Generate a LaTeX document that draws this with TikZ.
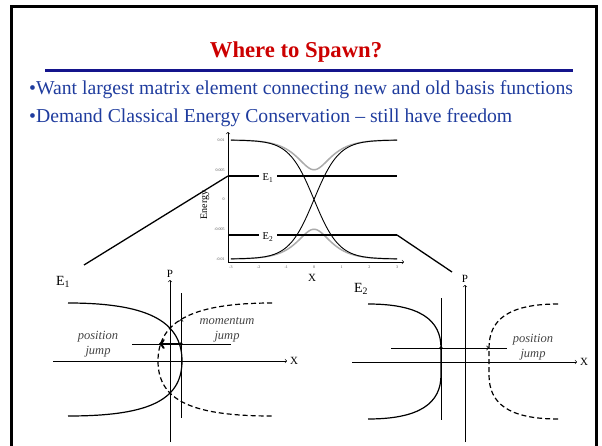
\documentclass[tikz,border=0pt]{standalone}
\usepackage{fontspec}
\setmainfont{Liberation Serif}
\usepackage{xcolor}
\usetikzlibrary{positioning}
\definecolor{TitleRed}{HTML}{CC0000}
\definecolor{RuleNavy}{HTML}{14148C}
\definecolor{TextBlue}{HTML}{1F3C9E}
\definecolor{NoteGray}{HTML}{444444}
\definecolor{CurveGray}{HTML}{ABABAB}

\begin{document}
\begin{tikzpicture}[
  x=1pt, y=-1pt,
  axis/.style={->, >=to, line width=0.6pt},
  level/.style={line width=1.6pt},
  link/.style={line width=1.3pt},
  diab/.style={line width=0.9pt},
  adiab/.style={line width=1.5pt, CurveGray},
  orbit/.style={line width=1.2pt},
  orbitalt/.style={line width=1.2pt, dash pattern=on 5pt off 3pt},
  guide/.style={line width=0.6pt},
  tick/.style={font=\fontsize{4}{4}\selectfont, text=black!70, inner sep=0.5pt},
  note/.style={align=center, text=NoteGray, font=\fontsize{12.5}{15}\selectfont\itshape},
  bullet/.style={anchor=base west, inner sep=0pt, text=TextBlue, font=\fontsize{19.7}{22}\selectfont},
  lvllbl/.style={inner sep=4pt, font=\fontsize{10.5}{12}\selectfont},
  panlbl/.style={font=\fontsize{14}{16}\selectfont},
  axlbl/.style={inner sep=0pt, font=\fontsize{11}{12}\selectfont}
]
  \useasboundingbox (0,0) rectangle (602,446);
  \draw[line width=3pt] (11,7) rectangle (596,480);

  \node[anchor=base, text=TitleRed, font=\fontsize{22.7}{26}\selectfont\bfseries] (title) at (296,57.5) {Where to Spawn?};
  \draw[RuleNavy, line width=3.8pt] (45,70.5) -- (573,70.5);
  \node[bullet] (ln1) at (29,95) {•Want largest matrix element connecting new and old basis functions};
  \node[bullet] (ln2) at (29,122.5) {•Demand Classical Energy Conservation – still have freedom};

  \begin{scope}[shift={(314pt,-199.5pt)}, x=27.7pt, y=5.95pt]
    \draw[adiab] plot[domain=-3:3, samples=121, smooth] (\x, {sqrt(100*tanh(\x/0.9)*tanh(\x/0.9) + 25*exp(-\x*\x/0.8))});
    \draw[adiab] plot[domain=-3:3, samples=121, smooth] (\x, {-sqrt(100*tanh(\x/0.9)*tanh(\x/0.9) + 25*exp(-\x*\x/0.8))});
    \draw[diab] plot[domain=-3:3, samples=121, smooth] (\x, {-10*tanh(\x/0.9)});
    \draw[diab] plot[domain=-3:3, samples=121, smooth] (\x, {10*tanh(\x/0.9)});
    \foreach \v in {-3,...,3}
      \node[tick] (tx\v) at (\v,-11.4) {\v};
    \foreach \v/\t in {10/0.01, 5/0.005, 0/0, -5/-0.005, -10/-0.01}
      \node[tick, anchor=east] (ty\v) at (-3.2,\v) {\t};
  \end{scope}

  \coordinate (plotO) at (228,262);
  \coordinate (plotTop) at (228,132);
  \coordinate (plotEnd) at (404,262);
  \draw[axis] (plotO) -- (plotTop);
  \draw[axis] (plotO) -- (plotEnd);
  \node[rotate=90, font=\fontsize{10}{12}\selectfont] (elbl) at (205,205) {Energy};
  \node[axlbl] (xlbl) at (312,278) {X};

  \coordinate (lvlAl) at (228,176);
  \coordinate (lvlAr) at (397,176);
  \node[lvllbl] (lvlA) at (268,178) {E\textsubscript{1}};
  \draw[level] (lvlAl) -- (lvlAl -| lvlA.west);
  \draw[level] (lvlAl -| lvlA.east) -- (lvlAr);
  \coordinate (lvlBl) at (228,235);
  \coordinate (lvlBr) at (397,235);
  \node[lvllbl] (lvlB) at (268,237) {E\textsubscript{2}};
  \draw[level] (lvlBl) -- (lvlBl -| lvlB.west);
  \draw[level] (lvlBl -| lvlB.east) -- (lvlBr);

  \coordinate (panA) at (84,265);
  \coordinate (panB) at (452,272);
  \draw[link] (lvlAl) -- (panA);
  \draw[link] (lvlBr) -- (panB);

  \node[panlbl] (eA) at (63,282) {E\textsubscript{1}};
  \coordinate (aPb) at (170,442);
  \coordinate (aPt) at (170,280);
  \coordinate (aXl) at (53,361);
  \coordinate (aXr) at (287,361);
  \draw[axis] (aPb) -- (aPt);
  \draw[axis] (aXl) -- (aXr);
  \node[axlbl, above=2pt of aPt] (aPlbl) {P};
  \node[axlbl, right=3pt of aXr] (aXlbl) {X};
  \draw[orbit] (68,303) .. controls (145,303) and (182,320) .. (182,361) .. controls (182,402) and (145,416) .. (68,416);
  \draw[orbitalt] (272,303) .. controls (195,303) and (158,320) .. (158,361) .. controls (158,402) and (195,416) .. (272,416);
  \coordinate (aVt) at (181,293);
  \coordinate (aVb) at (181,418);
  \coordinate (aHl) at (132,344);
  \coordinate (aHr) at (231,344);
  \draw[guide] (aVt) -- (aVb);
  \draw[guide] (aHl) -- (aHr);
  \coordinate (aJ) at (181,344);
  \coordinate (aPos) at (159,344);
  \coordinate (aMom) at (181,319);
  \draw[->, >=to, line width=2.4pt] (aJ) -- (aPos);
  \draw[->, >=to, line width=0.8pt] (aJ) -- (aMom);
  \fill (aJ) circle (1.8pt);
  \node[note] (posA) at (98,344) {position\\jump};
  \node[note] (momA) at (227,330) {momentum\\jump};

  \node[panlbl] (eB) at (361,289) {E\textsubscript{2}};
  \coordinate (bPb) at (465,442);
  \coordinate (bPt) at (465,285);
  \coordinate (bXl) at (352,362);
  \coordinate (bXr) at (577,362);
  \draw[axis] (bPb) -- (bPt);
  \draw[axis] (bXl) -- (bXr);
  \node[axlbl, above=2pt of bPt] (bPlbl) {P};
  \node[axlbl, right=3pt of bXr] (bXlbl) {X};
  \draw[orbit] (368,304) .. controls (420,304) and (441,320) .. (441,348) -- (441,375) .. controls (441,403) and (420,419) .. (368,419);
  \draw[orbitalt] (558,304) .. controls (508,304) and (489,320) .. (489,348) -- (489,375) .. controls (489,403) and (508,419) .. (558,419);
  \coordinate (bVt) at (441,298);
  \coordinate (bVb) at (441,420);
  \coordinate (bHl) at (391,348);
  \coordinate (bHr) at (507,348);
  \draw[guide] (bVt) -- (bVb);
  \draw[guide] (bHl) -- (bHr);
  \coordinate (bJ) at (441,348);
  \coordinate (bPos) at (489,348);
  \draw[->, >=to, line width=0.8pt] (bJ) -- (bPos);
  \fill (bJ) circle (1.8pt);
  \node[note] (posB) at (533,347) {position\\jump};
\end{tikzpicture}
\end{document}
